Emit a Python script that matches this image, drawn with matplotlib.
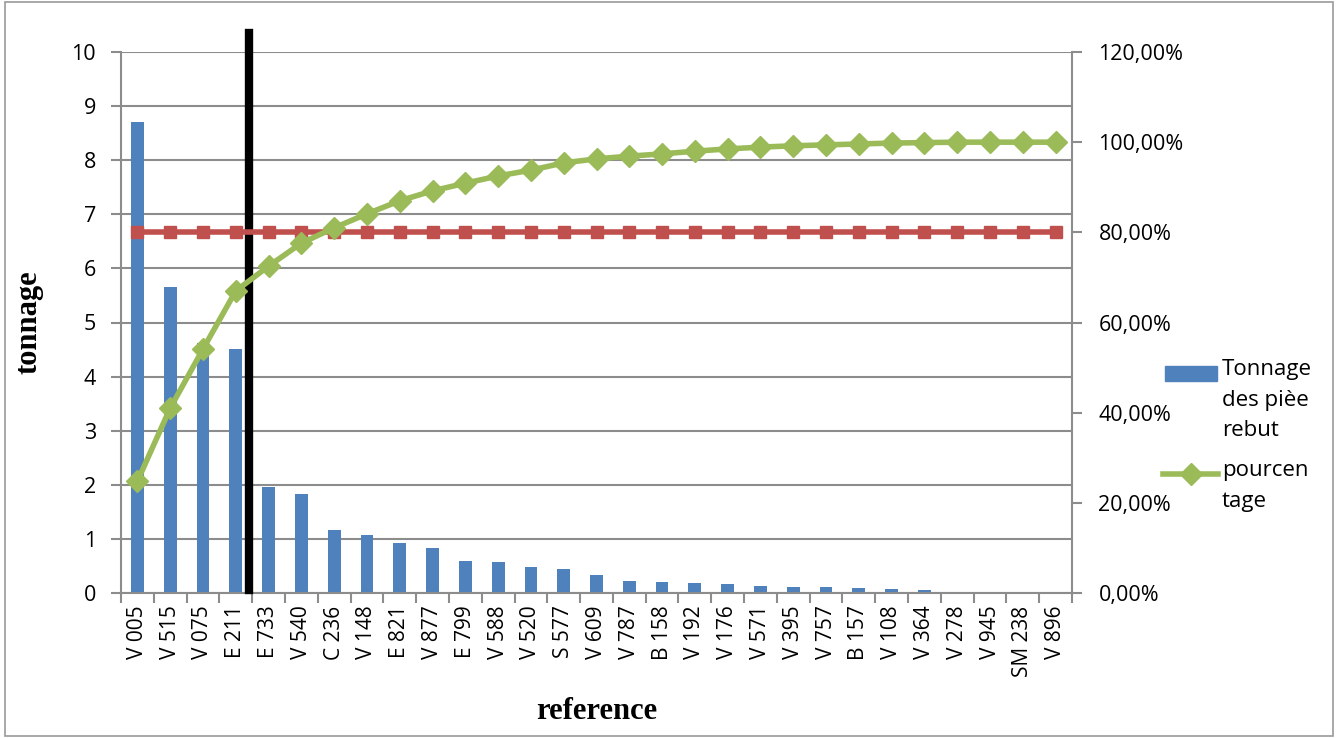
import matplotlib.pyplot as plt
from matplotlib.patches import Rectangle
from matplotlib.lines import Line2D
from matplotlib.ticker import FuncFormatter

# Pareto des pièces rebut
references = ["V 005", "V 515", "V 075", "E 211", "E 733", "V 540", "C 236", "V 148",
              "E 821", "V 877", "E 799", "V 588", "V 520", "S 577", "V 609", "V 787",
              "B 158", "V 192", "V 176", "V 571", "V 395", "V 757", "B 157", "V 108",
              "V 364", "V 278", "V 945", "SM 238", "V 896"]
tonnage = [8.70, 5.65, 4.63, 4.51, 1.96, 1.83, 1.16, 1.07, 0.92, 0.84, 0.60, 0.58,
           0.48, 0.44, 0.33, 0.23, 0.20, 0.18, 0.16, 0.13, 0.12, 0.105, 0.09, 0.07,
           0.055, 0.02, 0.0, 0.0, 0.0]
pourcentage = [24.8, 41.0, 54.1, 67.0, 72.5, 77.6, 81.0, 84.1, 87.0, 89.2, 90.9, 92.5,
               93.8, 95.4, 96.3, 96.9, 97.4, 98.0, 98.5, 98.9, 99.2, 99.4, 99.6, 99.8,
               99.9, 100.0, 100.0, 100.0, 100.0]
seuil = [80.0] * len(references)
coupure = 3.4  # cut between E 211 and E 733

grid_c = "#8c8c8c"
blue, green, red = "#4F81BD", "#9BBB59", "#C0504D"
plt.rcParams["font.family"] = ["Open Sans", "DejaVu Sans"]

W, H = 1339, 738
fig = plt.figure(figsize=(W / 100, H / 100), dpi=100)
fig.patches.append(Rectangle((5 / W, 2 / H), 1328 / W, 734 / H, transform=fig.transFigure,
                             fill=False, edgecolor="#9a9a9a", lw=1.2))
ax = fig.add_axes([121 / W, (H - 593) / H, 951 / W, 541 / H])
x = list(range(len(references)))

ax.bar(x, tonnage, width=0.39, color=blue, zorder=2)
ax.set_xlim(-0.5, len(references) - 0.5)
ax.set_ylim(0, 10)
ax.set_yticks(range(0, 11))
ax.yaxis.grid(True, color=grid_c, lw=1.5, zorder=0)
ax.set_axisbelow(True)
ax.set_xticks(x)
ax.set_xticklabels(references, rotation=90, fontsize=15)
ax.set_xticks([i - 0.5 for i in range(len(references) + 1)], minor=True)
ax.tick_params(axis="x", which="major", length=0, pad=9)
ax.tick_params(axis="x", which="minor", length=7, color=grid_c, width=1.5)
ax.tick_params(axis="y", labelsize=15.5, length=7, color=grid_c, width=1.5, pad=11)
for s in ["top", "right"]:
    ax.spines[s].set_visible(False)
for s in ["left", "bottom"]:
    ax.spines[s].set_color(grid_c)
    ax.spines[s].set_linewidth(1.5)
ax.set_ylabel("tonnage", fontsize=22, fontweight="bold", family="Liberation Serif", labelpad=20)
ax.set_xlabel("reference", fontsize=22, fontweight="bold", family="Liberation Serif", labelpad=15)

ax2 = ax.twinx()
ax2.set_ylim(0, 120)
ax2.set_yticks(range(0, 121, 20))
ax2.yaxis.set_major_formatter(FuncFormatter(lambda v, p: f"{v:.2f}%".replace(".", ",")))
ax2.tick_params(axis="y", labelsize=15.5, length=7, color=grid_c, width=1.5, pad=12)
for s in ["top", "left", "bottom"]:
    ax2.spines[s].set_visible(False)
ax2.spines["right"].set_color(grid_c)
ax2.spines["right"].set_linewidth(1.5)
ax2.plot(x, seuil, color=red, lw=4, marker="s", ms=9, zorder=3)
ax2.plot(x, pourcentage, color=green, lw=4, marker="D", ms=11, zorder=4)

# black cut line, runs above the plot area
ax.plot([coupure, coupure], [0.05, 10.35], color="black", lw=6, clip_on=False, zorder=5)

# legend drawn by hand (Excel style: handle next to first text line)
fig.patches.append(Rectangle((1165 / W, 1 - 381 / H), 52 / W, 15 / H,
                             transform=fig.transFigure, color=blue))
fig.lines.append(Line2D([1163 / W, 1218 / W], [1 - 474 / H] * 2, transform=fig.transFigure,
                        color=green, lw=4))
fig.lines.append(Line2D([1191 / W], [1 - 474 / H], transform=fig.transFigure,
                        color=green, marker="D", ms=11))
fig.text(1222 / W, 1 - 359 / H, "Tonnage\ndes pièe\nrebut", fontsize=16, va="top",
         ha="left", linespacing=1.6)
fig.text(1222 / W, 1 - 460 / H, "pourcen\ntage", fontsize=16, va="top",
         ha="left", linespacing=1.6)

fig.savefig("out.png", dpi=100, facecolor="white")
